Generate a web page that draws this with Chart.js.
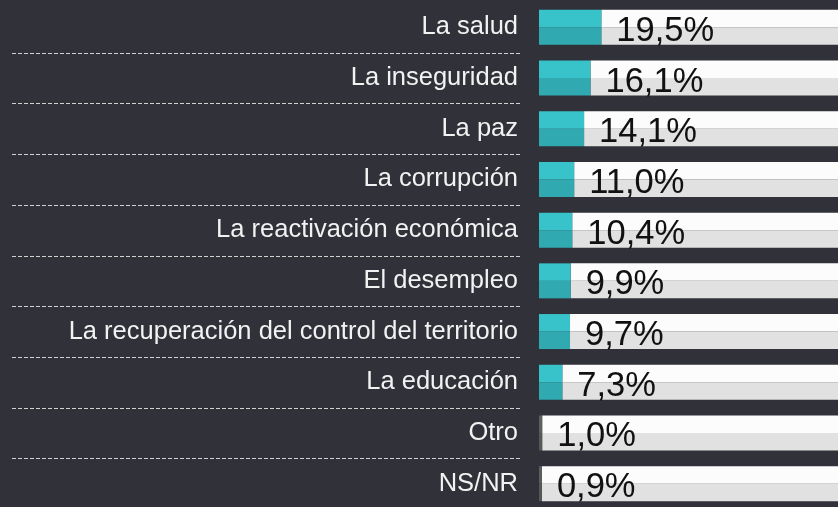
<!DOCTYPE html>
<html>
<head>
<meta charset="utf-8">
<script src="https://cdn.jsdelivr.net/npm/chart.js@4"></script>
<style>
  html, body { margin: 0; padding: 0; background: #303139; overflow: hidden; }
  #chart { width: 838px; height: 509px; position: relative; }
</style>
</head>
<body>
<div id="chart"><canvas id="temas"></canvas></div>
<script>
// categories and values
const categories = [
  "La salud",
  "La inseguridad",
  "La paz",
  "La corrupción",
  "La reactivación económica",
  "El desempleo",
  "La recuperación del control del territorio",
  "La educación",
  "Otro",
  "NS/NR",
];
const values = [19.5, 16.1, 14.1, 11.0, 10.4, 9.9, 9.7, 7.3, 1.0, 0.9];
const mutedCategories = ["Otro", "NS/NR"];
const axisMax = 93.5;

const rest = values.map((v) => axisMax - v);
const fmt = (v) => v.toFixed(1).replace(".", ",") + "%";

const isMuted = (i) => mutedCategories.indexOf(categories[i]) !== -1;
const fillTop = (ctx) => (isMuted(ctx.dataIndex) ? "#5e5e5e" : "#38c2c9");
const fillBottom = (ctx) => (isMuted(ctx.dataIndex) ? "#575757" : "#30aab0");

// dashed separators in the label column + value labels after each bar
const extras = {
  id: "extras",
  afterDatasetsDraw(chart) {
    const ctx = chart.ctx;
    const y = chart.scales.y;
    const step = y.getPixelForValue(1) - y.getPixelForValue(0);
    ctx.save();
    ctx.strokeStyle = "#d2d2d2";
    ctx.lineWidth = 1;
    ctx.setLineDash([4, 2]);
    for (let i = 0; i < categories.length - 1; i++) {
      const yy = Math.round(y.getPixelForValue(i) + step / 2) + 0.5;
      ctx.beginPath();
      ctx.moveTo(12, yy);
      ctx.lineTo(520, yy);
      ctx.stroke();
    }
    ctx.setLineDash([]);

    const meta = chart.getDatasetMeta(0);
    ctx.fillStyle = "#111111";
    ctx.font = "34.5px 'Liberation Sans', Arial, sans-serif";
    ctx.textAlign = "left";
    ctx.textBaseline = "alphabetic";
    meta.data.forEach((bar, i) => {
      const cy = y.getPixelForValue(i);
      ctx.fillText(fmt(values[i]), bar.x + 15, cy + 13.5);
    });
    ctx.restore();
  },
};

new Chart(document.getElementById("temas"), {
  type: "bar",
  data: {
    labels: categories,
    datasets: [
      { data: values, stack: "top", backgroundColor: fillTop },
      { data: rest, stack: "top", backgroundColor: "#fcfcfc" },
      { data: values, stack: "bottom", backgroundColor: fillBottom },
      { data: rest, stack: "bottom", backgroundColor: "#e1e1e1" },
    ],
  },
  options: {
    indexAxis: "y",
    responsive: true,
    maintainAspectRatio: false,
    animation: false,
    layout: { padding: { top: 2, right: 0, bottom: 0, left: 0 } },
    datasets: {
      bar: {
        categoryPercentage: 0.69,
        barPercentage: 1.0,
        borderWidth: 0,
      },
    },
    plugins: {
      legend: { display: false },
      tooltip: { enabled: false },
    },
    scales: {
      x: {
        display: false,
        min: 0,
        max: axisMax,
        stacked: true,
      },
      y: {
        grid: { display: false, drawTicks: false },
        border: { display: false },
        ticks: {
          color: "#f2f2f2",
          padding: 21,
          font: { size: 25.5, family: "'Liberation Sans', Arial, sans-serif" },
        },
        afterFit: (scale) => {
          scale.width = 539;
          scale.paddingTop = 0;
          scale.paddingBottom = 0;
        },
      },
    },
  },
  plugins: [extras],
});
</script>
</body>
</html>
